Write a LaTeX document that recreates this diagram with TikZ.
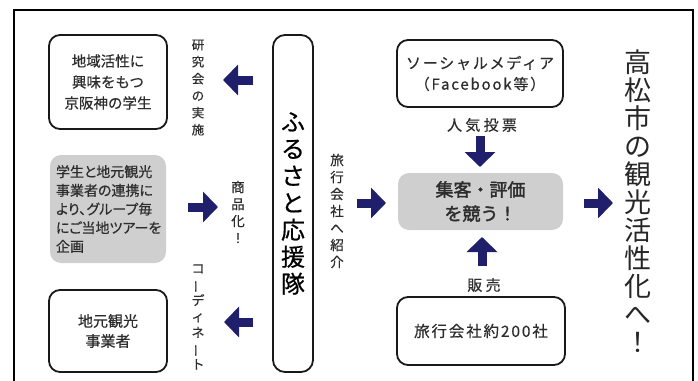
\documentclass[tikz,border=0pt]{standalone}
\usepackage{fontspec}
\setmainfont{Noto Sans CJK JP}[FakeBold=0.5, AutoFakeBold=2]
\newfontfamily\jpwide{Noto Sans CJK JP}[LetterSpace=22, FakeBold=0.5]
\newfontfamily\jpls{Noto Sans CJK JP}[LetterSpace=12, FakeBold=0.5]
\newfontfamily\jppalt{Noto Sans CJK JP}[RawFeature=+palt, FakeBold=0.5]
\newfontfamily\jpthin{Noto Sans CJK JP}
\usetikzlibrary{arrows.meta}
\definecolor{navy}{RGB}{31,31,107}
\definecolor{boxgray}{RGB}{207,207,207}
\definecolor{txt}{RGB}{45,45,45}
\newcommand{\vbar}{\rotatebox[origin=c]{90}{ー}}
\begin{document}
\begin{tikzpicture}[x=1pt,y=-1pt,
  wbox/.style={draw=black!90, line width=1.8pt, rounded corners=11pt, fill=white, inner sep=0pt, align=center, text=txt},
  gbox/.style={fill=boxgray, rounded corners=11pt, inner sep=0pt, text=txt},
  blk/.style={line width=9pt, navy, -{Triangle[length=15pt,width=30pt]}},
  vlab/.style={align=center, inner sep=0pt, text=txt},
]
\useasboundingbox (0,0) rectangle (698,380);
\draw[line width=2.4pt] (14,383) -- (14,10) -- (693,10) -- (693,383);

% boxes
\node[wbox, minimum width=118pt, minimum height=94pt, font=\fontsize{14.5}{21}\selectfont] (st) at (108,82) {地域活性に\\興味をもつ\\京阪神の学生};
\node[gbox, minimum width=116pt, minimum height=108pt, text width=104pt, align=left, font=\jppalt\fontsize{14}{18.7}\selectfont] (plan) at (108,209) {学生と地元観光\\事業者の連携に\\より､グループ毎\\にご当地ツアーを\\企画};
\node[wbox, minimum width=118pt, minimum height=82pt, font=\fontsize{15}{20}\selectfont] (op) at (108,331) {地元観光\\事業者};
\node[wbox, rounded corners=12pt, minimum width=40pt, minimum height=337pt, font=\fontsize{24}{27}\selectfont, text=black] (fu) at (293,203.5) {ふ\\る\\さ\\と\\応\\援\\隊};
\node[wbox, minimum width=166pt, minimum height=67pt, font=\jpls\fontsize{15}{21}\selectfont] (sm) at (480,73.5) {ソーシャルメディア\\（Facebook等）};
\node[gbox, minimum width=165pt, minimum height=57pt, align=center, font=\bfseries\fontsize{18}{24}\selectfont] (comp) at (480.5,201.5) {集客・評価\\を競う！};
\node[wbox, minimum width=168pt, minimum height=68pt, font=\jpls\fontsize{15.5}{20}\selectfont] (tr) at (481,331) {旅行会社約200社};

% labels
\node[vlab, font=\fontsize{12.5}{17}\selectfont] (l1) at (198,87.5) {研\\究\\会\\の\\実\\施};
\node[vlab, font=\fontsize{13.5}{17}\selectfont] (l2) at (238,212) {商\\品\\化\\！};
\node[vlab, font=\fontsize{13}{16}\selectfont] (l3) at (198,317) {コ\\\vbar\\デ\\ィ\\ネ\\\vbar\\ト};
\node[vlab, font=\fontsize{13.5}{17}\selectfont] (l4) at (337,211) {旅\\行\\会\\社\\へ\\紹\\介};
\node[vlab, font=\jpwide\fontsize{15}{19}\selectfont] (l5) at (482,125) {人気投票};
\node[vlab, font=\jpwide\fontsize{15}{19}\selectfont] (l6) at (484,285) {販売};
\node[vlab, font=\jpthin\fontsize{27}{28}\selectfont, text=black!85] (goal) at (638,201) {高\\松\\市\\の\\観\\光\\活\\性\\化\\へ\\！};

% arrows
\coordinate (a1s) at (253,80);  \coordinate (a1e) at (223,80);
\coordinate (a2s) at (188,207); \coordinate (a2e) at (218,207);
\coordinate (a3s) at (253,322); \coordinate (a3e) at (224,322);
\coordinate (a4s) at (357,203); \coordinate (a4e) at (386,203);
\coordinate (a5s) at (480,136); \coordinate (a5e) at (480,167);
\coordinate (a6s) at (482,266); \coordinate (a6e) at (482,237);
\coordinate (a7s) at (584,203); \coordinate (a7e) at (613,203);
\foreach \i in {1,...,7} {\draw[blk] (a\i s) -- (a\i e);}
\end{tikzpicture}
\end{document}
